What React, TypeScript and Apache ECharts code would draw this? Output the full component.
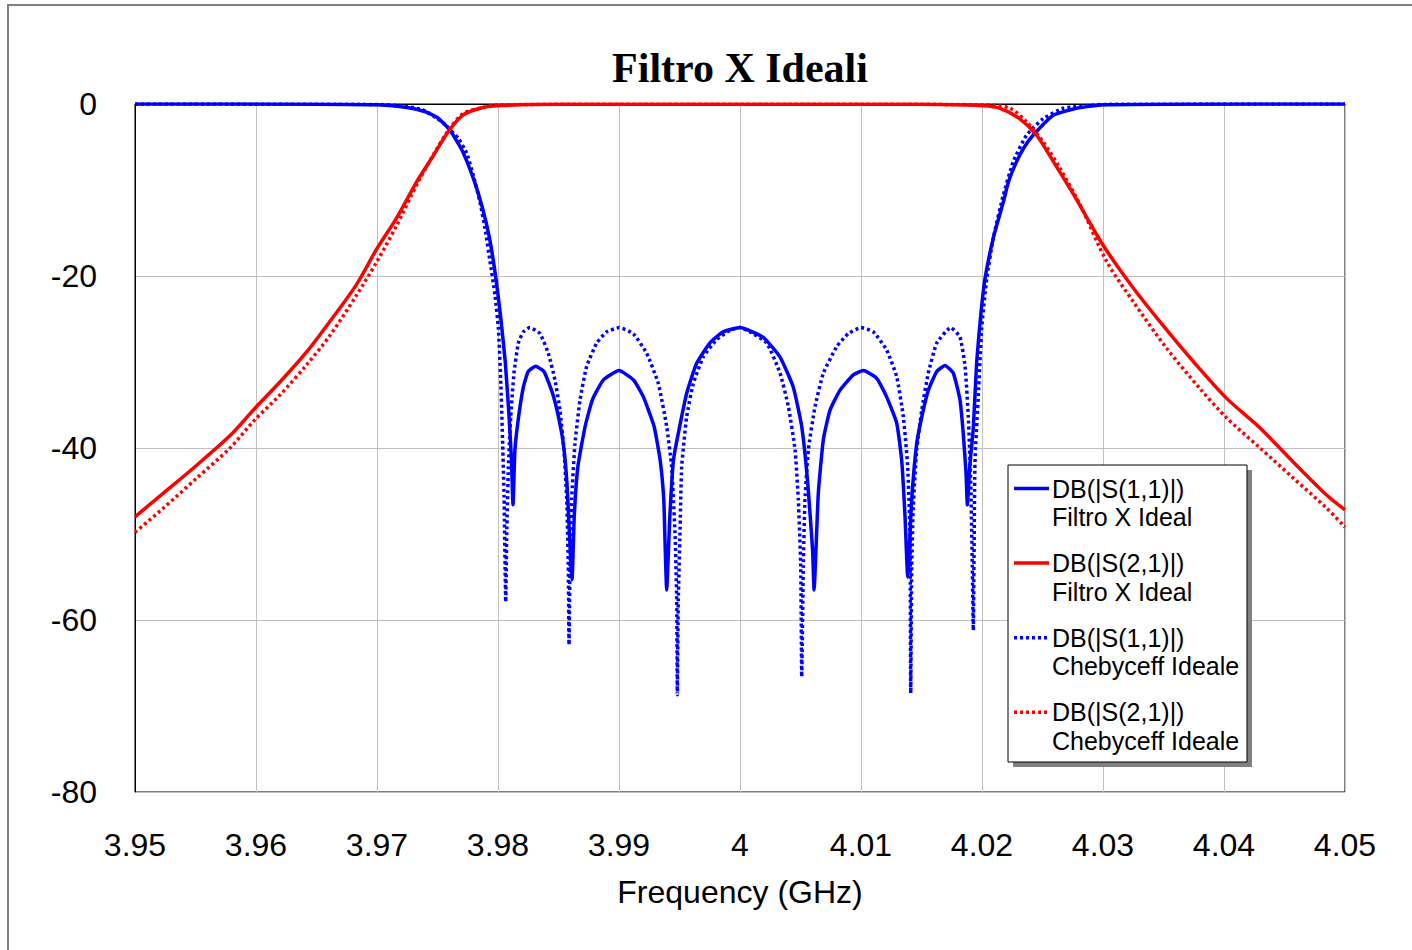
import React, { useEffect, useRef } from "react";
import * as echarts from "echarts";

const chartTitle = "Filtro X Ideali";
const xAxisTitle = "Frequency (GHz)";
const legendLabels = [
  ["DB(|S(1,1)|)", "Filtro X Ideal"],
  ["DB(|S(2,1)|)", "Filtro X Ideal"],
  ["DB(|S(1,1)|)", "Chebyceff Ideale"],
  ["DB(|S(2,1)|)", "Chebyceff Ideale"],
];

const s11Filtro: [number, number][] = [
  [3.95, 0], [3.965, -0.02], [3.97, -0.1], [3.9725, -0.4], [3.974, -0.9], [3.975, -1.6], [3.976, -3.0],
  [3.977, -5.3], [3.978, -8.8], [3.9787, -12.0], [3.9793, -15.6], [3.9798, -20.0], [3.9802, -24.5],
  [3.9806, -30.0], [3.9809, -36.0], [3.9811, -41.0], [3.98124, -46.6],
  [3.9814, -40.2], [3.9817, -36.4], [3.9821, -32.9], [3.9825, -31.1], [3.9831, -30.5], [3.9838, -31.1],
  [3.9845, -33.6], [3.985, -36.4], [3.9854, -39.5], [3.9857, -44.1], [3.9859, -49.9], [3.98612, -55.3],
  [3.9863, -48.0], [3.9866, -42.2], [3.9872, -37.5], [3.9878, -34.4], [3.9887, -32.1], [3.99, -31.0],
  [3.9912, -32.1], [3.992, -34.0], [3.9929, -37.5], [3.9934, -41.4], [3.9937, -46.0], [3.9938, -50.7],
  [3.99394, -56.5],
  [3.9942, -48.0], [3.9945, -41.4], [3.9949, -38.3], [3.9956, -33.6], [3.9964, -30.2], [3.9975, -27.8],
  [3.9986, -26.5], [4.0, -26.0], [4.0019, -27.1], [4.0033, -29.4], [4.0044, -32.9], [4.0051, -37.5],
  [4.0056, -44.1], [4.006, -51.9], [4.00612, -56.5],
  [4.00647, -45.3], [4.00689, -39.0], [4.00744, -35.6], [4.00826, -33.3], [4.00936, -31.5], [4.0102, -31.0],
  [4.0113, -31.9], [4.0121, -34.0], [4.01295, -37.1], [4.01336, -41.4], [4.01364, -48.0], [4.01386, -55.0],
  [4.01419, -46.0], [4.0146, -39.5], [4.01502, -36.4], [4.01556, -33.3], [4.01626, -31.1], [4.01694, -30.4],
  [4.01763, -31.3], [4.01818, -34.4], [4.01845, -38.3], [4.01868, -42.9], [4.01879, -46.6],
  [4.019, -42.0], [4.01928, -37.7], [4.01956, -30.0], [4.0199, -24.5], [4.02025, -20.3], [4.02093, -15.6],
  [4.02176, -11.4], [4.0222, -9.0], [4.02286, -6.7], [4.0235, -5.0], [4.02424, -3.6], [4.02589, -1.3],
  [4.02783, -0.5], [4.03, -0.1], [4.035, -0.02], [4.05, 0],
];

const s21Filtro: [number, number][] = [
  [3.95, -48.0], [3.9523, -45.3], [3.9551, -42.0], [3.9579, -38.5], [3.9599, -35.4], [3.962, -32.3],
  [3.9642, -28.8], [3.9661, -25.3], [3.9683, -21.0], [3.97, -16.8], [3.9716, -13.3], [3.9733, -9.0],
  [3.9747, -5.9], [3.9759, -3.2], [3.9771, -1.3], [3.9785, -0.5], [3.9799, -0.2], [3.985, -0.03],
  [4.0, -0.02], [4.015, -0.03], [4.0201, -0.2], [4.0215, -0.5], [4.0231, -1.7], [4.0245, -3.6],
  [4.0259, -6.7], [4.0276, -10.6], [4.03, -16.4], [4.0325, -21.4], [4.0347, -25.3], [4.0375, -30.0],
  [4.0402, -34.2], [4.043, -37.7], [4.0457, -41.6], [4.0485, -45.5], [4.05, -47.2],
];

const s11Cheby: [number, number][] = [
  [3.95, 0], [3.97, -0.05], [3.972, -0.2], [3.97383, -0.7], [3.97548, -2.2], [3.97672, -4.0], [3.97741, -5.7],
  [3.97796, -8.3], [3.97851, -11.4], [3.97893, -14.5], [3.97934, -18.3], [3.97975, -22.2], [3.98003, -26.1],
  [3.98022, -31.9], [3.98039, -39.7], [3.9805, -45.5], [3.98064, -57.9],
  [3.98072, -49.9], [3.98086, -42.2], [3.98105, -36.4], [3.98132, -31.3], [3.98168, -27.8], [3.98209, -26.5],
  [3.98264, -26.0], [3.98347, -26.7], [3.98416, -29.0], [3.98471, -32.1], [3.98512, -35.6], [3.98545, -40.2],
  [3.98568, -46.0], [3.98581, -53.8], [3.98587, -62.9],
  [3.98595, -53.8], [3.98609, -46.0], [3.98636, -39.5], [3.98678, -34.4], [3.98733, -30.5], [3.98816, -27.8],
  [3.98898, -26.5], [3.99003, -26.0], [3.99118, -26.7], [3.99229, -29.0], [3.99325, -32.5], [3.99394, -37.5],
  [3.99435, -42.2], [3.99463, -49.9], [3.99477, -57.7], [3.99482, -68.7],
  [3.9949, -57.7], [3.99504, -49.9], [3.99518, -42.2], [3.99559, -36.4], [3.99614, -32.5], [3.99697, -29.4],
  [3.99807, -27.4], [3.99917, -26.3], [4.0, -26.0], [4.00083, -26.5], [4.00221, -27.8], [4.00331, -31.3],
  [4.004, -35.2], [4.00455, -40.2], [4.00482, -46.0], [4.00502, -53.8], [4.0051, -66.6],
  [4.00523, -53.8], [4.00537, -46.0], [4.00565, -40.2], [4.0062, -35.2], [4.00689, -31.3], [4.008, -28.2],
  [4.00895, -26.7], [4.01, -26.0], [4.01102, -26.5], [4.01212, -28.6], [4.01295, -31.7], [4.0135, -36.4],
  [4.01386, -42.2], [4.01405, -49.9], [4.01411, -68.5],
  [4.01419, -53.8], [4.01432, -46.8], [4.0146, -40.2], [4.01502, -35.6], [4.01556, -31.3], [4.01626, -27.8],
  [4.01741, -26.0], [4.01818, -27.1], [4.0186, -30.5], [4.01887, -36.4], [4.01907, -44.1], [4.0192, -53.8],
  [4.01928, -61.2],
  [4.01942, -41.6], [4.0197, -33.8], [4.01997, -26.1], [4.02039, -20.3], [4.02093, -15.6], [4.02176, -10.6],
  [4.02258, -6.7], [4.02369, -3.6], [4.02506, -1.7], [4.02671, -0.5], [4.03, -0.05], [4.05, 0],
];

const s21Cheby: [number, number][] = [
  [3.95, -49.8], [3.95234, -47.0], [3.9551, -43.5], [3.95785, -40.0], [3.95992, -36.7], [3.962, -33.8],
  [3.9642, -30.3], [3.96612, -26.9], [3.96832, -22.2], [3.97, -18.3], [3.97163, -14.1], [3.97328, -9.4],
  [3.97466, -5.9], [3.97603, -2.8], [3.97713, -1.1], [3.9785, -0.5], [3.98, -0.1], [3.99, -0.02],
  [4.01, -0.02], [4.02, -0.1], [4.02231, -0.5], [4.02369, -2.1], [4.02506, -4.4], [4.02645, -7.5],
  [4.0281, -11.7], [4.0303, -18.3], [4.03251, -23.0], [4.03526, -28.4], [4.03802, -33.1], [4.04022, -36.5],
  [4.04298, -40.0], [4.04573, -43.5], [4.04849, -47.0], [4.05, -49.2],
];

const xMin = 3.95;
const xMax = 4.05;
const xStep = 0.01;
const yMin = -80;
const yMax = 0;
const yStep = 20;

const BLUE = "#0000ff";
const RED = "#ff0000";
const SANS = '"Liberation Sans", Arial, sans-serif';

export default function App() {
  const ref = useRef<HTMLDivElement>(null);
  useEffect(() => {
    if (!ref.current) return;
    const chart = echarts.init(ref.current, null, { renderer: "svg" });
    const lx = 1008, ly = 465, lw = 239, lh = 297;
    const legendColors = [BLUE, RED, BLUE, RED];
    const legendDashed = [false, false, true, true];
    const legendGraphics: any[] = [
      { type: "rect", shape: { x: lx + 5, y: ly + 5, width: lw, height: lh }, style: { fill: "#808080" }, z: 100 },
      { type: "rect", shape: { x: lx, y: ly, width: lw, height: lh }, style: { fill: "#fff", stroke: "#000", lineWidth: 1 }, z: 101 },
    ];
    legendLabels.forEach((lab, i) => {
      const y0 = 488.5 + i * 74.6;
      legendGraphics.push({
        type: "line",
        shape: { x1: 1014, y1: y0, x2: 1049, y2: y0 },
        style: { stroke: legendColors[i], lineWidth: 3.5, lineDash: legendDashed[i] ? [3, 3] : null },
        z: 102,
      });
      legendGraphics.push({
        type: "text",
        x: 1052,
        y: y0,
        style: { text: lab[0], font: `25px ${SANS}`, fill: "#000", align: "left", verticalAlign: "middle" },
        z: 102,
      });
      legendGraphics.push({
        type: "text",
        x: 1052,
        y: y0 + 28.5,
        style: { text: lab[1], font: `25px ${SANS}`, fill: "#000", align: "left", verticalAlign: "middle" },
        z: 102,
      });
    });

    const mk = (name: string, data: [number, number][], color: string, dashed: boolean, smooth: number) => ({
      name,
      type: "line",
      data,
      showSymbol: false,
      symbol: "none",
      smooth,
      lineStyle: { color, width: 3.5, type: dashed ? [3, 3] : "solid", cap: "butt" },
      itemStyle: { color },
    });

    chart.setOption({
      animation: false,
      backgroundColor: "#fff",
      grid: { left: 135, top: 104, width: 1210, height: 688, show: true, borderColor: "#000", borderWidth: 1, backgroundColor: "transparent" },
      xAxis: {
        type: "value",
        min: xMin,
        max: xMax,
        interval: xStep,
        name: xAxisTitle,
        nameLocation: "middle",
        nameGap: 84,
        nameTextStyle: { fontSize: 32, fontFamily: SANS, color: "#000" },
        axisLine: { show: true, lineStyle: { color: "#000", width: 1 } },
        axisTick: { show: false },
        axisLabel: {
          fontSize: 32,
          fontFamily: SANS,
          color: "#000",
          margin: 37,
          formatter: (v: number) => String(parseFloat(v.toFixed(3))),
        },
        splitLine: { show: true, lineStyle: { color: "#c0c0c0", width: 1 } },
      },
      yAxis: {
        type: "value",
        min: yMin,
        max: yMax,
        interval: yStep,
        axisLine: { show: true, lineStyle: { color: "#000", width: 1 } },
        axisTick: { show: false },
        axisLabel: { fontSize: 32, fontFamily: SANS, color: "#000", margin: 38 },
        splitLine: { show: true, lineStyle: { color: "#c0c0c0", width: 1 } },
      },
      series: [
        mk("S11 Filtro", s11Filtro, BLUE, false, 0.15),
        mk("S21 Filtro", s21Filtro, RED, false, 0.3),
        mk("S11 Cheby", s11Cheby, BLUE, true, 0.15),
        mk("S21 Cheby", s21Cheby, RED, true, 0.3),
      ],
      graphic: [
        { type: "rect", shape: { x: 8, y: 5, width: 1500, height: 1000 }, style: { fill: "none", stroke: "#808080", lineWidth: 2 }, z: -10, silent: true },
        {
          type: "text",
          x: 740,
          y: 68,
          style: { text: chartTitle, font: 'bold 42px "Liberation Serif", "Times New Roman", serif', fill: "#000", align: "center", verticalAlign: "middle" },
          z: 100,
        },
        ...legendGraphics,
      ],
    });
    return () => chart.dispose();
  }, []);
  return <div ref={ref} style={{ position: "fixed", left: 0, top: 0, width: 1412, height: 950 }} />;
}
